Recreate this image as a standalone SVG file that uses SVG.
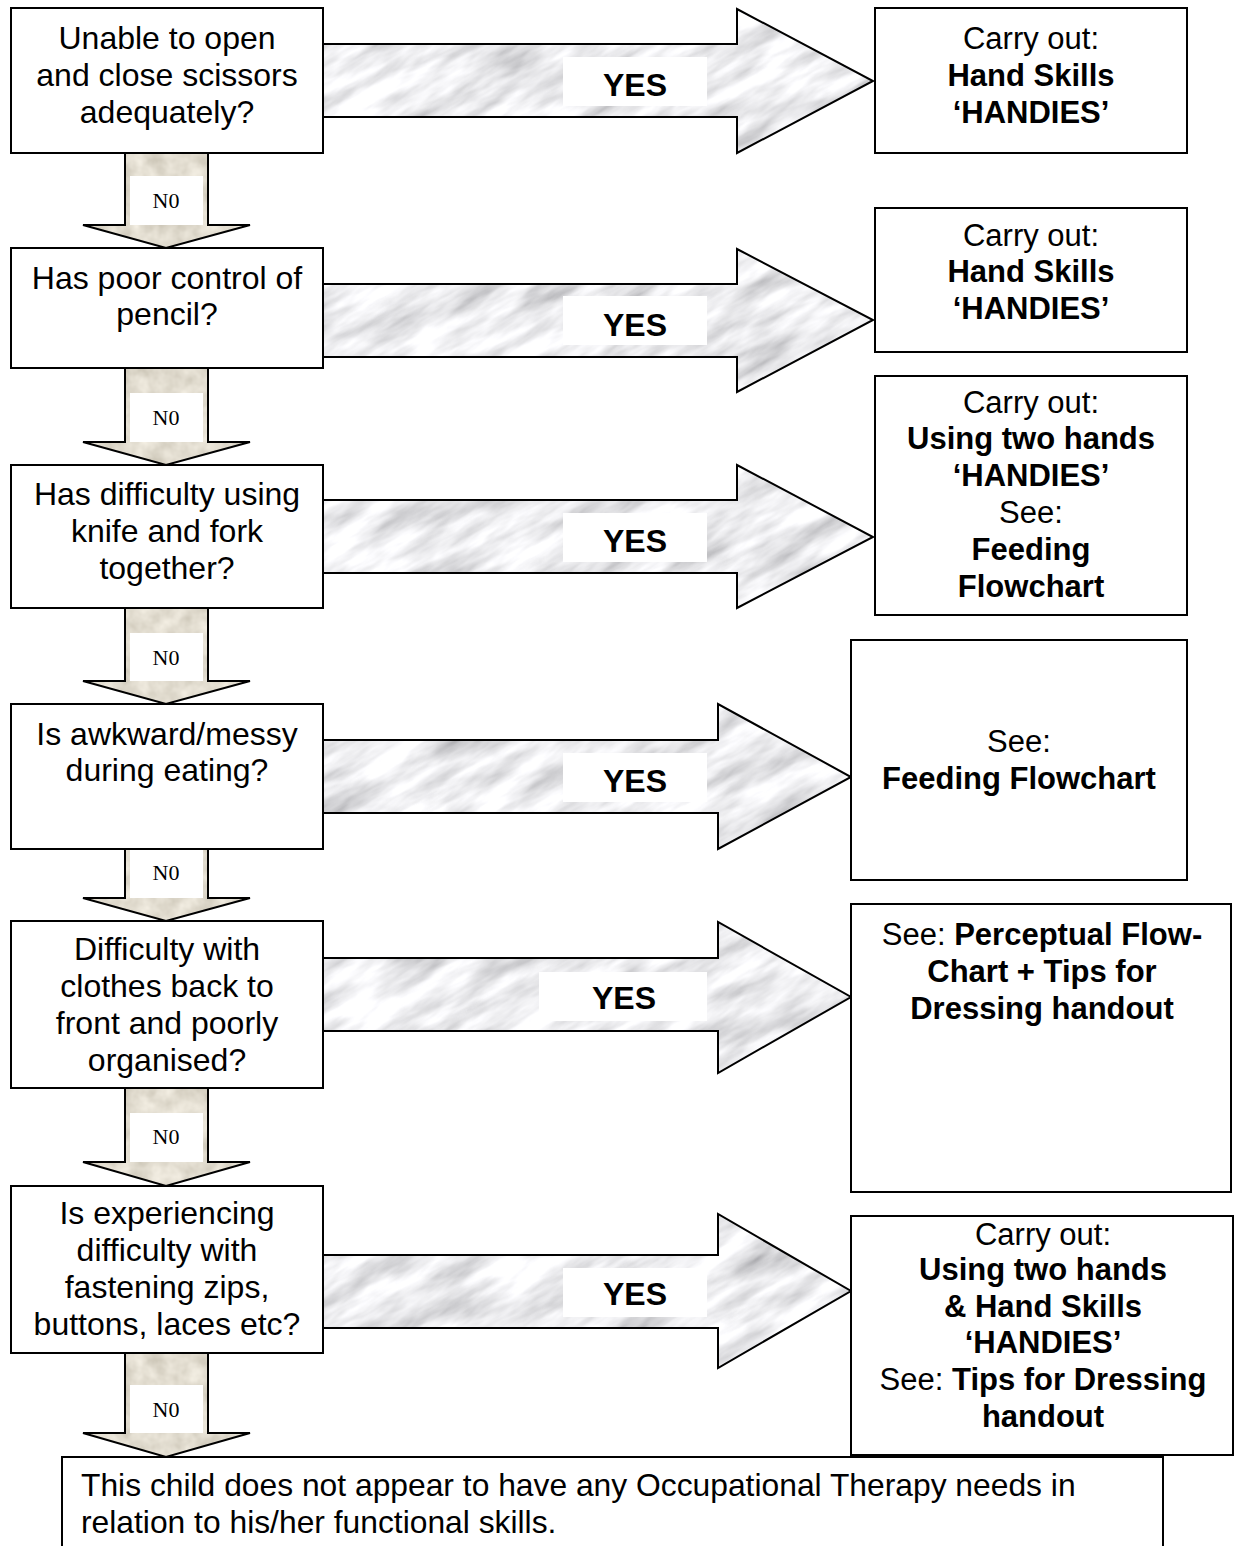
<svg xmlns="http://www.w3.org/2000/svg" width="1237" height="1546" viewBox="0 0 1237 1546">
  <style>
    .box { fill: #ffffff; stroke: #000000; stroke-width: 2; }
    .edge { stroke: #000000; stroke-width: 2; stroke-linejoin: miter; }
    .grey { fill: url(#greyFill); }
    .beige { fill: url(#beigeFill); }
    .outline { fill: none; stroke: #000000; stroke-width: 2; }
    .q { font-family: "Liberation Sans", Arial, sans-serif; font-size: 32px; fill: #000; text-anchor: middle; }
    .r { font-family: "Liberation Sans", Arial, sans-serif; font-size: 31px; fill: #000; text-anchor: middle; }
    .b { font-weight: bold; }
    .yes { font-family: "Liberation Sans", Arial, sans-serif; font-size: 32px; font-weight: bold; fill: #000; text-anchor: middle; }
    .no { font-family: "Liberation Serif", "Times New Roman", serif; font-size: 22px; fill: #000; text-anchor: middle; }
    .lbl { fill: #ffffff; stroke: none; }
    .end { font-family: "Liberation Sans", Arial, sans-serif; font-size: 31.8px; fill: #000; }
  </style>
  <defs>
    <!-- grey marble texture for the YES arrows -->
    <filter id="marbleGrey" x="0" y="0" width="100%" height="100%" filterUnits="objectBoundingBox">
      <feTurbulence type="fractalNoise" baseFrequency="0.014 0.05" numOctaves="4" seed="7" stitchTiles="stitch" result="n"/>
      <feColorMatrix in="n" type="matrix" values="1.0 0 0 0 0.34  1.0 0 0 0 0.34  1.0 0 0 0 0.36  0 0 0 0 1"/>
    </filter>
    <!-- beige stone texture for the NO arrows -->
    <filter id="marbleBeige" x="0" y="0" width="100%" height="100%" filterUnits="objectBoundingBox">
      <feTurbulence type="fractalNoise" baseFrequency="0.06" numOctaves="3" seed="3" stitchTiles="stitch" result="n"/>
      <feColorMatrix in="n" type="matrix" values="0.4 0 0 0 0.56  0.4 0 0 0 0.52  0.4 0 0 0 0.43  0 0 0 0 1"/>
    </filter>
    <pattern id="greyFill" patternUnits="userSpaceOnUse" width="600" height="300" patternTransform="rotate(-30)">
      <rect width="600" height="300" filter="url(#marbleGrey)"/>
    </pattern>
    <pattern id="beigeFill" patternUnits="userSpaceOnUse" width="300" height="300">
      <rect width="300" height="300" filter="url(#marbleBeige)"/>
    </pattern>
  </defs>

  <!-- connectors -->
  <g id="connectors">
    <!-- YES arrows -->
    <g id="yes1">
      <polygon points="323,44 737,44 737,9 873,81 737,153 737,117 323,117" class="edge grey"/>
      <rect x="563" y="57" width="144" height="49" class="lbl"/>
      <text x="635" y="96" class="yes">YES</text>
    </g>
    <g id="yes2">
      <polygon points="323,284 737,284 737,249 873,320 737,392 737,357 323,357" class="edge grey"/>
      <rect x="563" y="296" width="144" height="49" class="lbl"/>
      <text x="635" y="336" class="yes">YES</text>
    </g>
    <g id="yes3">
      <polygon points="323,500 737,500 737,465 873,537 737,608 737,573 323,573" class="edge grey"/>
      <rect x="563" y="513" width="144" height="49" class="lbl"/>
      <text x="635" y="552" class="yes">YES</text>
    </g>
    <g id="yes4">
      <polygon points="323,740 718,740 718,704 851,777 718,849 718,813 323,813" class="edge grey"/>
      <rect x="563" y="753" width="144" height="49" class="lbl"/>
      <text x="635" y="792" class="yes">YES</text>
    </g>
    <g id="yes5">
      <polygon points="323,958 718,958 718,922 851,997 718,1073 718,1031 323,1031" class="edge grey"/>
      <rect x="539" y="972" width="168" height="49" class="lbl"/>
      <text x="624" y="1009" class="yes">YES</text>
    </g>
    <g id="yes6">
      <polygon points="323,1255 718,1255 718,1214 851,1291 718,1368 718,1328 323,1328" class="edge grey"/>
      <rect x="563" y="1268" width="144" height="49" class="lbl"/>
      <text x="635" y="1305" class="yes">YES</text>
    </g>

    <!-- NO arrows -->
    <g id="no1">
      <polygon points="125,153 208,153 208,225 250,225 166,248 83,225 125,225" class="edge beige"/>
      <rect x="130" y="176" width="73" height="49" class="lbl"/>
      <text x="166" y="208" class="no">N0</text>
    </g>
    <g id="no2">
      <polygon points="125,368 208,368 208,442 250,442 166,465 83,442 125,442" class="edge beige"/>
      <rect x="130" y="393" width="73" height="49" class="lbl"/>
      <text x="166" y="425" class="no">N0</text>
    </g>
    <g id="no3">
      <polygon points="125,608 208,608 208,681 250,681 166,704 83,681 125,681" class="edge beige"/>
      <rect x="130" y="633" width="73" height="48" class="lbl"/>
      <text x="166" y="665" class="no">N0</text>
    </g>
    <g id="no4">
      <polygon points="125,849 208,849 208,898 250,898 166,921 83,898 125,898" class="edge beige"/>
      <rect x="130" y="850" width="73" height="48" class="lbl"/>
      <text x="166" y="880" class="no">N0</text>
    </g>
    <g id="no5">
      <polygon points="125,1088 208,1088 208,1162 250,1162 166,1186 83,1162 125,1162" class="edge beige"/>
      <rect x="130" y="1113" width="73" height="49" class="lbl"/>
      <text x="166" y="1144" class="no">N0</text>
    </g>
    <g id="no6">
      <polygon points="125,1353 208,1353 208,1433 250,1433 166,1457 83,1433 125,1433" class="edge beige"/>
      <rect x="130" y="1385" width="73" height="48" class="lbl"/>
      <text x="166" y="1417" class="no">N0</text>
    </g>
  </g>

  <!-- question boxes -->
  <g id="q1">
    <rect x="11" y="8" width="312" height="145" class="box"/>
    <text class="q"><tspan x="167" y="49">Unable to open</tspan><tspan x="167" y="86">and close scissors</tspan><tspan x="167" y="123">adequately?</tspan></text>
  </g>
  <g id="q2">
    <rect x="11" y="248" width="312" height="120" class="box"/>
    <text class="q"><tspan x="167" y="289">Has poor control of</tspan><tspan x="167" y="325">pencil?</tspan></text>
  </g>
  <g id="q3">
    <rect x="11" y="465" width="312" height="143" class="box"/>
    <text class="q"><tspan x="167" y="505">Has difficulty using</tspan><tspan x="167" y="542">knife and fork</tspan><tspan x="167" y="579">together?</tspan></text>
  </g>
  <g id="q4">
    <rect x="11" y="704" width="312" height="145" class="box"/>
    <text class="q"><tspan x="167" y="745">Is awkward/messy</tspan><tspan x="167" y="781">during eating?</tspan></text>
  </g>
  <g id="q5">
    <rect x="11" y="921" width="312" height="167" class="box"/>
    <text class="q"><tspan x="167" y="960">Difficulty with</tspan><tspan x="167" y="997">clothes back to</tspan><tspan x="167" y="1034">front and poorly</tspan><tspan x="167" y="1071">organised?</tspan></text>
  </g>
  <g id="q6">
    <rect x="11" y="1186" width="312" height="167" class="box"/>
    <text class="q"><tspan x="167" y="1224">Is experiencing</tspan><tspan x="167" y="1261">difficulty with</tspan><tspan x="167" y="1298">fastening zips,</tspan><tspan x="167" y="1335">buttons, laces etc?</tspan></text>
  </g>

  <!-- action boxes -->
  <g id="a1">
    <rect x="875" y="8" width="312" height="145" class="box"/>
    <text class="r"><tspan x="1031" y="49">Carry out:</tspan><tspan x="1031" y="86" class="b">Hand Skills</tspan><tspan x="1031" y="123" class="b">‘HANDIES’</tspan></text>
  </g>
  <g id="a2">
    <rect x="875" y="208" width="312" height="144" class="box"/>
    <text class="r"><tspan x="1031" y="246">Carry out:</tspan><tspan x="1031" y="282" class="b">Hand Skills</tspan><tspan x="1031" y="319" class="b">‘HANDIES’</tspan></text>
  </g>
  <g id="a3">
    <rect x="875" y="376" width="312" height="239" class="box"/>
    <text class="r"><tspan x="1031" y="413">Carry out:</tspan><tspan x="1031" y="449" class="b">Using two hands</tspan><tspan x="1031" y="486" class="b">‘HANDIES’</tspan><tspan x="1031" y="523">See:</tspan><tspan x="1031" y="560" class="b">Feeding</tspan><tspan x="1031" y="597" class="b">Flowchart</tspan></text>
  </g>
  <g id="a4">
    <rect x="851" y="640" width="336" height="240" class="box"/>
    <text class="r"><tspan x="1019" y="752">See:</tspan><tspan x="1019" y="789" class="b">Feeding Flowchart</tspan></text>
  </g>
  <g id="a5">
    <rect x="851" y="904" width="380" height="288" class="box"/>
    <text class="r"><tspan x="1042" y="945">See: <tspan class="b">Perceptual Flow-</tspan></tspan><tspan x="1042" y="982" class="b">Chart + Tips for</tspan><tspan x="1042" y="1019" class="b">Dressing handout</tspan></text>
  </g>
  <g id="a6">
    <rect x="851" y="1216" width="382" height="239" class="box"/>
    <text class="r"><tspan x="1043" y="1245">Carry out:</tspan><tspan x="1043" y="1280" class="b">Using two hands</tspan><tspan x="1043" y="1317" class="b">&amp; Hand Skills</tspan><tspan x="1043" y="1353" class="b">‘HANDIES’</tspan><tspan x="1043" y="1390">See: <tspan class="b">Tips for Dressing</tspan></tspan><tspan x="1043" y="1427" class="b">handout</tspan></text>
  </g>

  <!-- closing statement, box runs off the page bottom -->
  <g id="end">
    <path d="M62,1547 V1457 H1163 V1547" class="outline"/>
    <text class="end"><tspan x="81" y="1496">This child does not appear to have any Occupational Therapy needs in</tspan><tspan x="81" y="1533">relation to his/her functional skills.</tspan></text>
  </g>
</svg>
